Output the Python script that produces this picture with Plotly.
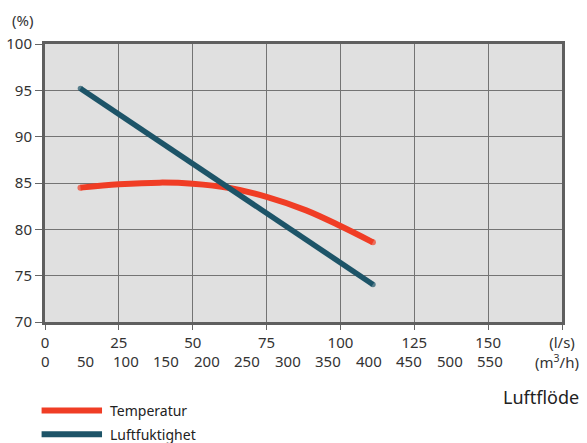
import plotly.graph_objects as go

# ---- data ----
flow_ls_temp = [12, 25, 38.8, 50, 62.5, 75, 88.4, 100, 111]
temperatur = [84.5, 84.86, 85.04, 84.93, 84.46, 83.5, 82.05, 80.36, 78.6]

flow_ls_hum = [12, 111]
luftfuktighet = [95.2, 74.05]

x_ticks_ls = [0, 25, 50, 75, 100, 125, 150, 175]
x_ticktext_ls = ["0", "25", "50", "75", "100", "125", "150", "(l/s)"]
y_ticks = [70, 75, 80, 85, 90, 95, 100]
m3h_labels = [0, 50, 100, 150, 200, 250, 300, 350, 400, 450, 500, 550]
M3H_PER_LS = 3.65  # label spacing as drawn in the source

RED = "#f03d25"
TEAL = "#1d5468"
FONT = "Noto Sans"
TXT = "#333333"

fig = go.Figure()


def endcap_sizes(n, w):
    return [w] + [0] * (n - 2) + [w]


fig.add_trace(go.Scatter(
    x=flow_ls_temp, y=temperatur, mode="lines+markers", name="Temperatur",
    line=dict(color=RED, width=6, shape="spline", smoothing=1.0),
    marker=dict(color=RED, size=endcap_sizes(len(flow_ls_temp), 6), line=dict(width=0)),
    showlegend=False, hoverinfo="skip"))
fig.add_trace(go.Scatter(
    x=flow_ls_hum, y=luftfuktighet, mode="lines+markers", name="Luftfuktighet",
    line=dict(color=TEAL, width=5.5),
    marker=dict(color=TEAL, size=endcap_sizes(len(flow_ls_hum), 5.5), line=dict(width=0)),
    showlegend=False, hoverinfo="skip"))

annotations = []
# m3/h row
for v in m3h_labels:
    annotations.append(dict(x=v / M3H_PER_LS, xref="x", y=-0.142, yref="paper",
                            text=str(v), showarrow=False, xanchor="center", yanchor="middle",
                            font=dict(family=FONT, size=15, color=TXT)))
annotations.append(dict(x=1.0, xref="paper", y=-0.142, yref="paper", text="(m<sup>3</sup>/h)",
                        showarrow=False, xanchor="center", yanchor="middle", xshift=-5,
                        font=dict(family=FONT, size=15, color=TXT)))
annotations.append(dict(x=0, xref="paper", y=1.085, yref="paper", text="(%)",
                        showarrow=False, xanchor="center", yanchor="middle", xshift=-23,
                        font=dict(family=FONT, size=15, color=TXT)))
annotations.append(dict(x=1.0, xref="paper", y=-0.27, yref="paper", text="Luftflöde",
                        showarrow=False, xanchor="right", yanchor="middle", xshift=19,
                        font=dict(family=FONT, size=18, color="#222222")))

shapes = []
legend_items = [("Temperatur", RED, -0.318), ("Luftfuktighet", TEAL, -0.404)]
for name, col, yy in legend_items:
    shapes.append(dict(type="line", xref="paper", yref="paper", x0=-0.0066, x1=0.1103,
                       y0=yy, y1=yy, line=dict(color=col, width=6)))
    annotations.append(dict(x=0.121, xref="paper", y=yy, yref="paper", text=name,
                            showarrow=False, xanchor="left", yanchor="middle",
                            font=dict(family=FONT, size=14, color="#222222")))

fig.update_layout(
    width=587, height=443,
    margin=dict(l=45, r=25, t=44, b=121),
    paper_bgcolor="white", plot_bgcolor="#e0e0e0",
    font=dict(family=FONT, size=15, color=TXT),
    showlegend=False,
    annotations=annotations, shapes=shapes,
)
fig.update_xaxes(range=[0, 175], tickvals=x_ticks_ls, ticktext=x_ticktext_ls,
                 automargin=False,
                 showgrid=True, gridcolor="#747474", gridwidth=1.3, zeroline=False,
                 showline=True, linecolor="#5f5f5f", linewidth=3, mirror=True,
                 ticks="outside", ticklen=5, tickcolor="#666666", tickwidth=1,
                 tickfont=dict(family=FONT, size=15, color=TXT))
fig.update_yaxes(range=[70, 100], tickvals=y_ticks,
                 automargin=False,
                 showgrid=True, gridcolor="#747474", gridwidth=1.3, zeroline=False,
                 showline=True, linecolor="#5f5f5f", linewidth=3, mirror=True,
                 ticks="outside", ticklen=7, tickcolor="#666666", tickwidth=1,
                 tickfont=dict(family=FONT, size=15, color=TXT))

fig.write_html("out.html", config={"displayModeBar": False},
               post_script="document.body.style.margin='0';")
